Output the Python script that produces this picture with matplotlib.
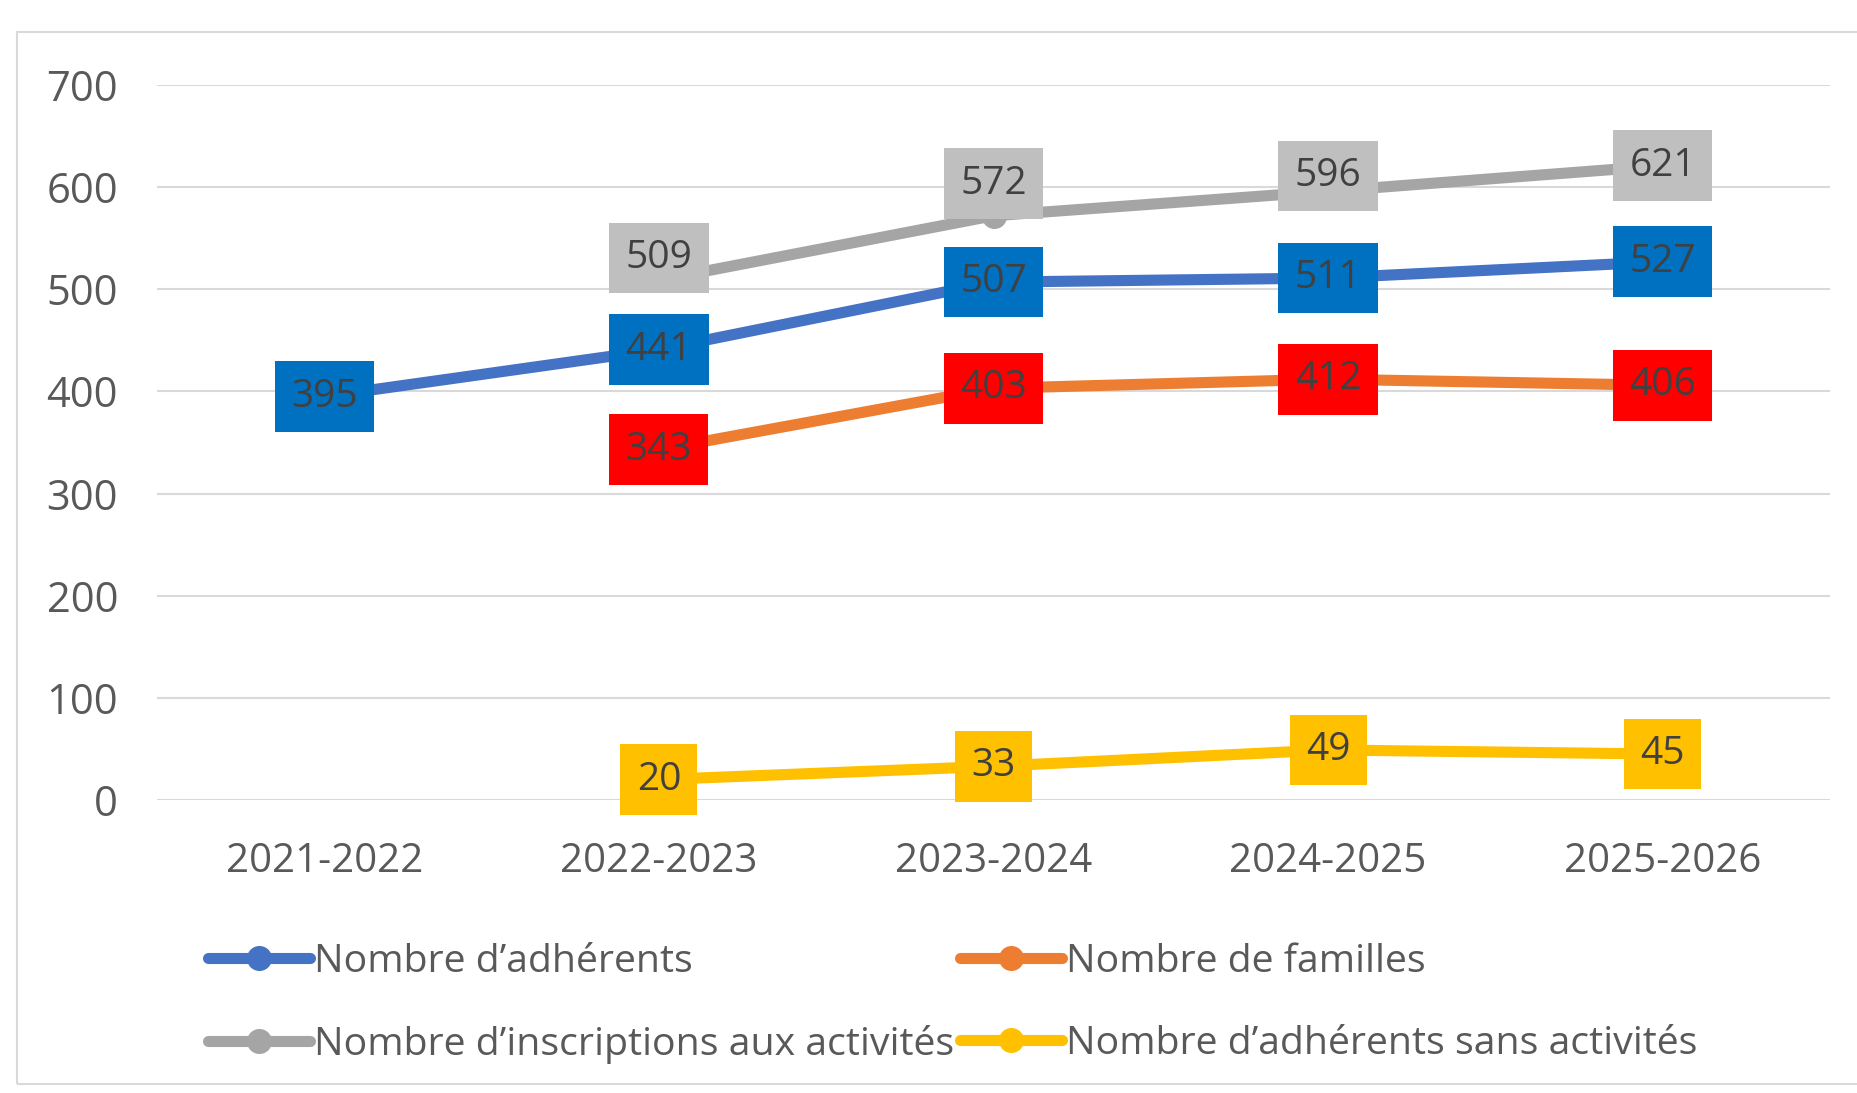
import numpy as np
import matplotlib.pyplot as plt
from matplotlib.patches import Rectangle

# -------------------------------------------------
# Data
# -------------------------------------------------
saisons = ["2021-2022", "2022-2023", "2023-2024", "2024-2025", "2025-2026"]
adherents = [395, 441, 507, 511, 527]
familles = [np.nan, 343, 403, 412, 406]
inscriptions = [np.nan, 509, 572, 596, 621]
sans_activites = [np.nan, 20, 33, 49, 45]

noms = [
    "Nombre d\u2019adh\u00e9rents",
    "Nombre de familles",
    "Nombre d\u2019inscriptions aux activit\u00e9s",
    "Nombre d\u2019adh\u00e9rents sans activit\u00e9s",
]

# label offsets (points) for the gray series, moved above the point like in Excel
offsets_inscriptions = [0, 16, 23, 11, 0]

plt.rcParams["font.family"] = ["Open Sans", "DejaVu Sans"]

# -------------------------------------------------
# Figure
# -------------------------------------------------
fig = plt.figure(figsize=(18.57, 10.93), dpi=100)
ax = fig.add_axes([157 / 1857, 1 - 800 / 1093, (1830 - 157) / 1857, (800 - 85) / 1093])

x = np.arange(len(saisons))
series = [
    (adherents, "#4472C4", "#0070C0", noms[0]),
    (familles, "#ED7D31", "#FF0000", noms[1]),
    (inscriptions, "#A5A5A5", "#BFBFBF", noms[2]),
    (sans_activites, "#FFC000", "#FFC000", noms[3]),
]

handles = []
for vals, col, bg, nom in series:
    line, = ax.plot(x, vals, color=col, lw=8, marker="o", ms=17,
                    solid_capstyle="round", zorder=3, label=nom)
    handles.append(line)
    for i, v in enumerate(vals):
        if np.isnan(v):
            continue
        dy = offsets_inscriptions[i] if vals is inscriptions else 0
        ax.annotate(f"{int(v)}", (x[i], v), xytext=(0, dy), textcoords="offset points",
                    ha="center", va="center", fontsize=28, color="#404040", zorder=5,
                    bbox=dict(boxstyle="square,pad=0.42", fc=bg, ec="none"))

ax.set_xlim(-0.5, len(saisons) - 0.5)
ax.set_ylim(0, 700)
ax.set_yticks(range(0, 701, 100))
ax.set_xticks(x)
ax.set_xticklabels(saisons)
ax.grid(axis="y", color="#D9D9D9", lw=1.5, zorder=0)
ax.set_axisbelow(True)
for s in ax.spines.values():
    s.set_visible(False)
ax.tick_params(axis="both", length=0, labelsize=30, colors="#595959")
ax.tick_params(axis="x", labelsize=29, pad=30)
ax.tick_params(axis="y", pad=28)

# legend : row 1 = adherents, familles ; row 2 = inscriptions, sans activites
leg_handles = [handles[0], handles[2], handles[1], handles[3]]
fig.legend(leg_handles, [h.get_label() for h in leg_handles], ncol=2,
           loc="upper left", bbox_to_anchor=(208 / 1857, 1 - 943 / 1093),
           frameon=False, fontsize=28.3, labelcolor="#595959",
           handlelength=2.6, handletextpad=0.1, columnspacing=0.15,
           labelspacing=1.12, borderpad=0, borderaxespad=0)

# chart area border
fig.patches.append(Rectangle((17 / 1857, 1 - 1084 / 1093), 1.02, (1084 - 32) / 1093,
                             transform=fig.transFigure, fill=False,
                             ec="#D9D9D9", lw=1.5))

fig.savefig("out.png", dpi=100, facecolor="white")
